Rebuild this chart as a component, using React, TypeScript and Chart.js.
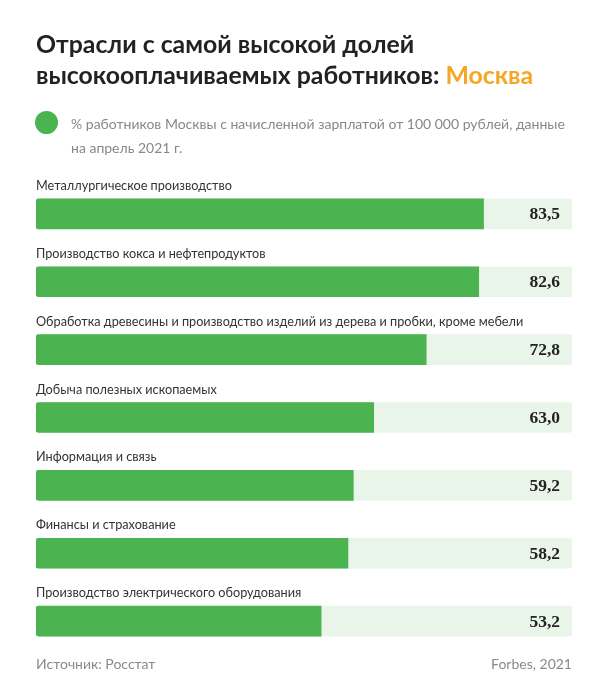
import React, { useEffect, useRef } from "react";
import { Chart, registerables } from "chart.js";

Chart.register(...registerables);

const categories = [
  "Металлургическое производство",
  "Производство кокса и нефтепродуктов",
  "Обработка древесины и производство изделий из дерева и пробки, кроме мебели",
  "Добыча полезных ископаемых",
  "Информация и связь",
  "Финансы и страхование",
  "Производство электрического оборудования",
];
const values = [83.5, 82.6, 72.8, 63.0, 59.2, 58.2, 53.2];
const trackValues = [100, 100, 100, 100, 100, 100, 100];

const GREEN = "#4bb34f";
const TRACK = "#eaf5ea";
const SANS = "Lato, 'Noto Sans', sans-serif";

const labelsPlugin = {
  id: "labelsPlugin",
  afterDatasetsDraw(chart: any) {
    const ctx = chart.ctx;
    const meta = chart.getDatasetMeta(0);
    const area = chart.chartArea;
    ctx.save();
    meta.data.forEach((bar: any, i: number) => {
      ctx.font = `12.7px ${SANS}`;
      ctx.fillStyle = "#333333";
      ctx.textAlign = "left";
      ctx.textBaseline = "middle";
      ctx.fillText(categories[i], area.left, bar.y - 28);
      ctx.font = "bold 17.5px 'Liberation Serif', serif";
      ctx.fillStyle = "#222222";
      ctx.textAlign = "right";
      ctx.fillText(values[i].toFixed(1).replace(".", ","), area.right - 12, bar.y + 1);
    });
    ctx.restore();
  },
};

export default function App() {
  const ref = useRef<HTMLCanvasElement>(null);
  useEffect(() => {
    if (!ref.current) return;
    const chart = new Chart(ref.current, {
      type: "bar",
      data: {
        labels: categories,
        datasets: [
          {
            data: values,
            backgroundColor: GREEN,
            barThickness: 30,
            grouped: false,
            borderRadius: { topLeft: 3, bottomLeft: 3, topRight: 0, bottomRight: 0 },
            borderSkipped: false,
          } as any,
          {
            data: trackValues,
            backgroundColor: TRACK,
            barThickness: 30,
            grouped: false,
            borderRadius: 3,
            borderSkipped: false,
          } as any,
        ],
      },
      options: {
        indexAxis: "y",
        animation: false,
        responsive: false,
        maintainAspectRatio: false,
        layout: { padding: { left: 36, right: 36, top: 180, bottom: 37 } },
        scales: {
          x: { display: false, min: 0, max: 100 },
          y: { display: false },
        },
        plugins: {
          legend: { display: false },
          tooltip: { enabled: false },
          title: { display: false },
        },
      },
      plugins: [labelsPlugin],
    });
    return () => chart.destroy();
  }, []);

  return (
    <div style={{ position: "fixed", left: 0, top: 0, width: 608, height: 692, background: "#fff", fontFamily: SANS }}>
      <canvas ref={ref} width={608} height={692} style={{ position: "absolute", left: 0, top: 0 }} />
      <div
        style={{
          position: "absolute",
          left: 36,
          top: 28,
          fontSize: 24.8,
          fontWeight: 700,
          lineHeight: "31px",
          color: "#222",
          fontFamily: SANS,
          whiteSpace: "nowrap",
        }}
      >
        Отрасли с самой высокой долей
        <br />
        высокооплачиваемых работников: <span style={{ color: "#f5a623" }}>Москва</span>
      </div>
      <div
        style={{
          position: "absolute",
          left: 35,
          top: 111,
          width: 23,
          height: 23,
          borderRadius: "50%",
          background: GREEN,
        }}
      />
      <div
        style={{
          position: "absolute",
          left: 71,
          top: 112,
          width: 520,
          fontSize: 14,
          lineHeight: "24px",
          color: "#888",
          whiteSpace: "nowrap",
        }}
      >
        % работников Москвы с начисленной зарплатой от 100 000 рублей, данные
        <br />
        на апрель 2021 г.
      </div>
      <div style={{ position: "absolute", left: 36, top: 655, fontSize: 14, color: "#8a8a8a" }}>
        Источник: Росстат
      </div>
      <div style={{ position: "absolute", right: 36, top: 655, fontSize: 14, color: "#8a8a8a" }}>
        Forbes, 2021
      </div>
    </div>
  );
}
